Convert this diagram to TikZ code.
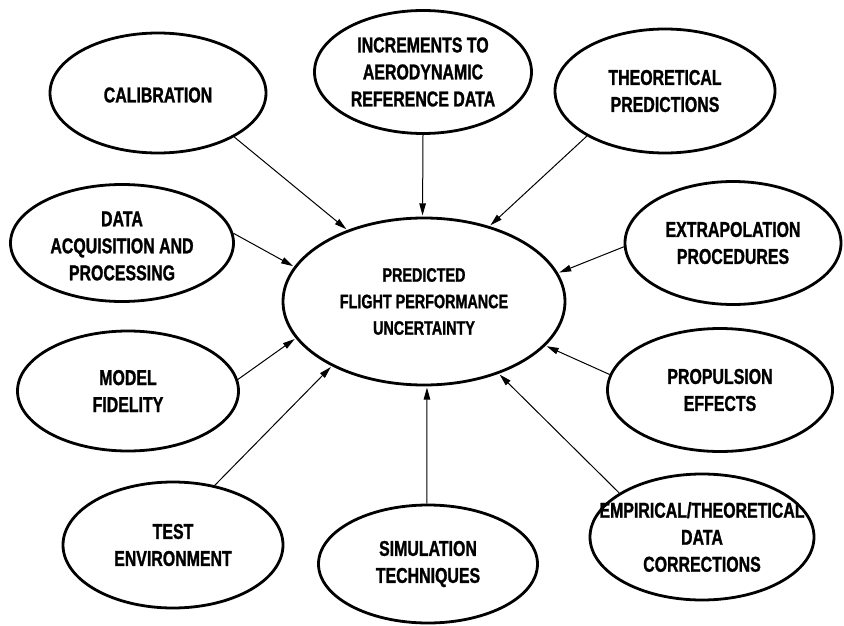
\documentclass[tikz,border=0pt]{standalone}
\usepackage{fontspec}
\newfontfamily\lblfont[FakeStretch=0.74,FakeBold=1.2]{Liberation Sans}
\usetikzlibrary{shapes.geometric,arrows.meta}
\begin{document}
\begin{tikzpicture}[x=1pt,y=-1pt,
  ell/.style={draw, ellipse, line width=2.8pt, inner sep=0pt},
  lbl/.style={font=\lblfont\bfseries\fontsize{21.5}{27}\selectfont, align=center, inner sep=0pt},
  clbl/.style={font=\lblfont\bfseries\fontsize{19.4}{26.5}\selectfont, align=center, inner sep=0pt},
  arr/.style={-{Triangle[length=12pt,width=6.5pt]}, line width=1pt, shorten >=1.2pt}]
\useasboundingbox (0,0) rectangle (844,626);
% ellipses
\node[ell, minimum width=282pt, minimum height=167pt] (cen) at (424,301.5) {};
\node[ell, minimum width=216pt, minimum height=120pt] (cal) at (158,93) {};
\node[ell, minimum width=217pt, minimum height=123pt] (inc) at (423,72) {};
\node[ell, minimum width=220pt, minimum height=124pt] (theo) at (665,91) {};
\node[ell, minimum width=216pt, minimum height=123pt] (ext) at (733,243) {};
\node[ell, minimum width=223pt, minimum height=117pt] (dat) at (122,243) {};
\node[ell, minimum width=221pt, minimum height=120pt] (mod) at (128,391) {};
\node[ell, minimum width=220pt, minimum height=126pt] (tst) at (173,545) {};
\node[ell, minimum width=219pt, minimum height=118pt] (sim) at (428,564) {};
\node[ell, minimum width=224pt, minimum height=126pt] (emp) at (702,537) {};
\node[ell, minimum width=225pt, minimum height=123pt] (pro) at (720,390) {};
% labels
\node[clbl] (cen-t) at (cen) {PREDICTED\\FLIGHT PERFORMANCE\\UNCERTAINTY};
\node[lbl] (cal-t) at (158,95) {CALIBRATION};
\node[lbl] (inc-t) at (inc) {INCREMENTS TO\\AERODYNAMIC\\REFERENCE DATA};
\node[lbl] (theo-t) at (theo) {THEORETICAL\\PREDICTIONS};
\node[lbl] (ext-t) at (ext) {EXTRAPOLATION\\PROCEDURES};
\node[lbl] (dat-t) at (122,246) {DATA\\ACQUISITION AND\\PROCESSING};
\node[lbl] (mod-t) at (mod) {MODEL\\FIDELITY};
\node[lbl] (tst-t) at (tst) {TEST\\ENVIRONMENT};
\node[lbl] (sim-t) at (sim) {SIMULATION\\TECHNIQUES};
\node[lbl] (emp-t) at (emp) {EMPIRICAL/THEORETICAL\\DATA\\CORRECTIONS};
\node[lbl] (pro-t) at (pro) {PROPULSION\\EFFECTS};
% connectors
\draw[arr] (cal.-30) -- (cen.137);
\draw[arr] (inc.-90) -- (cen.91);
\draw[arr] (theo.210.4) -- (cen.49.8);
\draw[arr] (ext.182.6) -- (cen.12.2);
\draw[arr] (dat.5.3) -- (cen.165.7);
\draw[arr] (mod.6.8) -- (cen.196.6);
\draw[arr] (tst.55) -- (cen.215);
\draw[arr] (sim.91) -- (cen.272);
\draw[arr] (emp.152) -- (cen.316.4);
\draw[arr] (pro.172.2) -- (cen.340.5);
\end{tikzpicture}
\end{document}
